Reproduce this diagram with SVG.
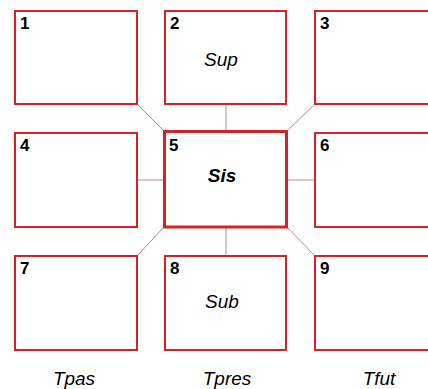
<svg xmlns="http://www.w3.org/2000/svg" width="428" height="389" viewBox="0 0 428 389">
<style>
.box{fill:#fff;stroke:#d42228;stroke-width:2}
.center{stroke-width:3}
.num{font-family:"Liberation Sans",Arial,sans-serif;font-weight:bold;font-size:17px;fill:#000}
.lbl{font-family:"Liberation Sans",Arial,sans-serif;font-style:italic;font-size:19px;fill:#000;text-anchor:middle}
.b{font-weight:bold}
.conn line{stroke:#b98a8a;stroke-width:1}
</style>
<rect width="428" height="389" fill="#fff"/>
<g id="connectors" class="conn">
<line x1="137" y1="104" x2="164" y2="131"/>
<line x1="226" y1="104" x2="226" y2="131"/>
<line x1="315" y1="104" x2="287" y2="131"/>
<line x1="137" y1="180" x2="164" y2="180"/>
<line x1="287" y1="180" x2="315" y2="180"/>
<line x1="137" y1="256" x2="164" y2="227"/>
<line x1="226" y1="227" x2="226" y2="256"/>
<line x1="287" y1="227" x2="315" y2="256"/>
</g>
<g id="n1"><rect class="box" x="15" y="11" width="122" height="93"/><text class="num" x="20" y="29">1</text></g>
<g id="n2"><rect class="box" x="165" y="11" width="121" height="93"/><text class="num" x="170" y="29">2</text><text class="lbl" x="221" y="66">Sup</text></g>
<g id="n3"><rect class="box" x="315" y="11" width="122" height="93"/><text class="num" x="320" y="29">3</text></g>
<g id="n4"><rect class="box" x="15" y="133" width="122" height="94"/><text class="num" x="20" y="151">4</text></g>
<g id="n5"><rect class="box center" x="164.5" y="131.5" width="122" height="95.5"/><text class="num" x="169" y="151">5</text><text class="lbl b" x="222" y="182">Sis</text></g>
<g id="n6"><rect class="box" x="315" y="133" width="122" height="94"/><text class="num" x="320" y="151">6</text></g>
<g id="n7"><rect class="box" x="15" y="256" width="122" height="94"/><text class="num" x="20" y="274">7</text></g>
<g id="n8"><rect class="box" x="165" y="256" width="121" height="94"/><text class="num" x="170" y="274">8</text><text class="lbl" x="222" y="308">Sub</text></g>
<g id="n9"><rect class="box" x="315" y="256" width="122" height="94"/><text class="num" x="320" y="274">9</text></g>
<g id="axis">
<text class="lbl" x="74" y="385">Tpas</text>
<text class="lbl" x="227" y="385">Tpres</text>
<text class="lbl" x="379" y="385">Tfut</text>
</g>
</svg>
